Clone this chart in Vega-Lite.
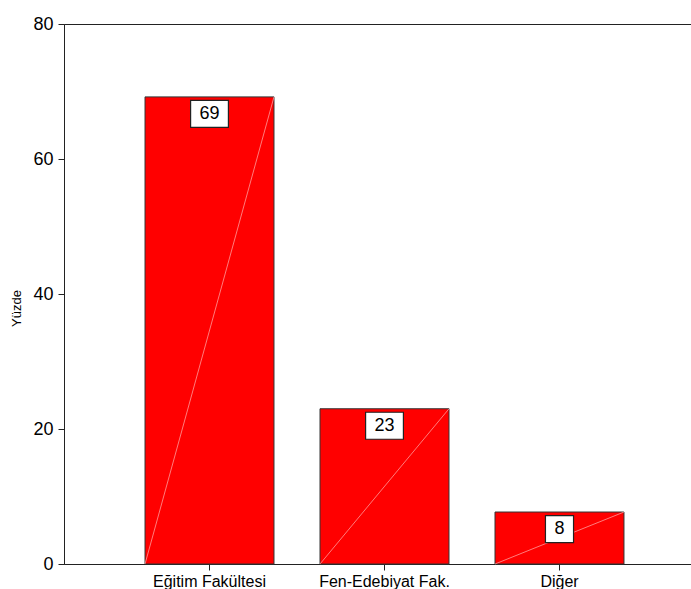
{
  "$schema": "https://vega.github.io/schema/vega-lite/v6.json",
  "autosize": {"type": "none"},
  "padding": {"left": 64, "top": 24, "right": 0, "bottom": 25},
  "width": 641,
  "height": 540,
  "background": "white",
  "config": {
    "view": {"stroke": "#222", "strokeWidth": 1},
    "font": "Liberation Sans"
  },
  "data": {
    "values": [
      {"fakulte": "Eğitim Fakültesi", "yuzde": 69.2, "etiket": "69"},
      {"fakulte": "Fen-Edebiyat Fak.", "yuzde": 23.0, "etiket": "23"},
      {"fakulte": "Diğer", "yuzde": 7.7, "etiket": "8"}
    ]
  },
  "encoding": {
    "x": {
      "field": "fakulte",
      "type": "nominal",
      "sort": null,
      "title": null,
      "scale": {"paddingInner": 0.263, "paddingOuter": 0.463},
      "axis": {
        "labelAngle": 0,
        "labelFontSize": 16,
        "labelColor": "black",
        "labelPadding": 3,
        "tickSize": 6,
        "tickColor": "#222",
        "domainColor": "#222",
        "labelFont": "Liberation Sans"
      }
    },
    "y": {
      "field": "yuzde",
      "type": "quantitative",
      "title": "Yüzde",
      "scale": {"domain": [0, 80], "nice": false},
      "axis": {
        "values": [0, 20, 40, 60, 80],
        "grid": false,
        "labelFontSize": 18,
        "labelColor": "black",
        "labelPadding": 5,
        "tickSize": 6,
        "tickColor": "#222",
        "domainColor": "#222",
        "titleFont": "Liberation Sans",
        "titleFontSize": 13,
        "titleFontWeight": "normal",
        "titleColor": "black",
        "titlePadding": 9,
        "titleY": 284
      }
    }
  },
  "layer": [
    {
      "mark": {"type": "bar", "color": "#ff0000", "stroke": "#333", "strokeWidth": 1}
    },
    {
      "mark": {"type": "rule", "color": "#ff9a9a", "strokeWidth": 0.8},
      "encoding": {
        "x": {"field": "fakulte", "type": "nominal", "sort": null, "bandPosition": 0},
        "x2": {"field": "fakulte", "bandPosition": 1},
        "y": {"datum": 0},
        "y2": {"field": "yuzde"}
      }
    },
    {
      "mark": {"type": "point", "filled": true, "color": "white", "stroke": "#222", "strokeWidth": 1.2, "opacity": 1, "yOffset": 17},
      "encoding": {
        "shape": {
          "field": "fakulte",
          "type": "nominal",
          "sort": null,
          "legend": null,
          "scale": {
            "domain": ["Eğitim Fakültesi", "Fen-Edebiyat Fak.", "Diğer"],
            "range": ["M-1.4,-1H1.4V1H-1.4Z", "M-1.4,-1H1.4V1H-1.4Z", "M-1.04,-1H1.04V1H-1.04Z"]
          }
        },
        "size": {"value": 729}
      }
    },
    {
      "mark": {"type": "text", "fontSize": 18, "color": "black", "baseline": "middle", "yOffset": 17},
      "encoding": {"text": {"field": "etiket"}}
    }
  ]
}
